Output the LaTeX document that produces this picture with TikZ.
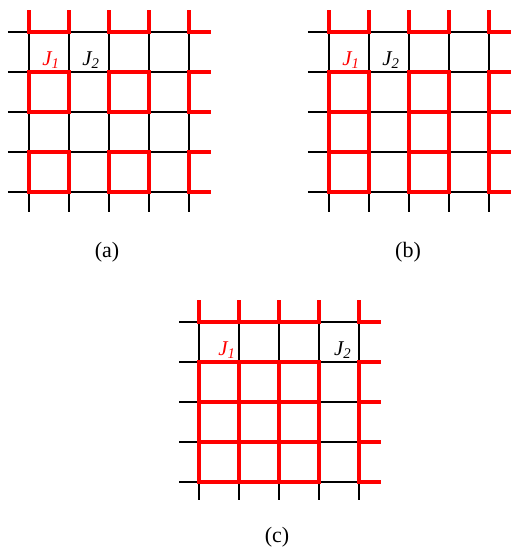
\documentclass[tikz,border=0pt]{standalone}
\usepackage{fontspec}
\setmainfont{Liberation Serif}
\begin{document}
\begin{tikzpicture}[x=1pt,y=-1pt,
  gridline/.style={draw=black,line width=1.1pt},
  redline/.style={draw=red,line width=4pt,line cap=rect,line join=miter},
  lab/.style={font=\fontsize{21}{21}\selectfont\itshape,inner sep=0pt},
  captext/.style={font=\fontsize{22}{22}\selectfont,inner sep=0pt}]
\useasboundingbox (0,0) rectangle (511,550);

% ---------- Panel (a) ----------
\begin{scope}[shift={(29,32)},x=40pt,y=-40pt]
  \foreach \r in {0,...,4} \draw[gridline] (-0.53,\r) -- (4,\r);
  \foreach \c in {0,...,4} \draw[gridline] (\c,0) -- (\c,4.5);
  \foreach \c in {0,...,4} \draw[redline] (\c,-0.5) -- (\c,0);
  \draw[redline] (0,0) -- (1,0);
  \draw[redline] (2,0) -- (3,0);
  \draw[redline] (4,0) -- (4.5,0);
  \foreach \r in {1,3} {
    \draw[redline] (0,\r) rectangle (1,\r+1);
    \draw[redline] (2,\r) rectangle (3,\r+1);
    \draw[redline] (4.5,\r) -- (4,\r) -- (4,\r+1) -- (4.5,\r+1);
  }
  \node[lab,text=red] (a1) at (0.55,0.7) {J\textsubscript{1}};
  \node[lab] (a2) at (1.55,0.7) {J\textsubscript{2}};
\end{scope}
\node[captext] (capa) at (107,252) {(a)};

% ---------- Panel (b) ----------
\begin{scope}[shift={(329,32)},x=40pt,y=-40pt]
  \foreach \r in {0,...,4} \draw[gridline] (-0.53,\r) -- (4,\r);
  \foreach \c in {0,...,4} \draw[gridline] (\c,0) -- (\c,4.5);
  \foreach \c in {0,...,4} \draw[redline] (\c,-0.5) -- (\c,0);
  \draw[redline] (0,0) -- (1,0);
  \draw[redline] (2,0) -- (3,0);
  \draw[redline] (4,0) -- (4.5,0);
  \foreach \c in {0,...,4} \draw[redline] (\c,1) -- (\c,4);
  \foreach \r in {1,...,4} {
    \draw[redline] (0,\r) -- (1,\r);
    \draw[redline] (2,\r) -- (3,\r);
    \draw[redline] (4,\r) -- (4.5,\r);
  }
  \node[lab,text=red] (b1) at (0.55,0.7) {J\textsubscript{1}};
  \node[lab] (b2) at (1.55,0.7) {J\textsubscript{2}};
\end{scope}
\node[captext] (capb) at (408,252) {(b)};

% ---------- Panel (c) ----------
\begin{scope}[shift={(199,322)},x=40pt,y=-40pt]
  \foreach \r in {0,...,4} \draw[gridline] (-0.5,\r) -- (4,\r);
  \foreach \c in {0,...,4} \draw[gridline] (\c,0) -- (\c,4.45);
  \foreach \c in {0,...,4} \draw[redline] (\c,-0.5) -- (\c,0);
  \foreach \c in {0,...,4} \draw[redline] (\c,1) -- (\c,4);
  \foreach \r in {0,...,4} {
    \draw[redline] (0,\r) -- (3,\r);
    \draw[redline] (4,\r) -- (4.5,\r);
  }
  \node[lab,text=red] (c1) at (0.7,0.7) {J\textsubscript{1}};
  \node[lab] (c2) at (3.59,0.7) {J\textsubscript{2}};
\end{scope}
\node[captext] (capc) at (277,537) {(c)};
\end{tikzpicture}
\end{document}
